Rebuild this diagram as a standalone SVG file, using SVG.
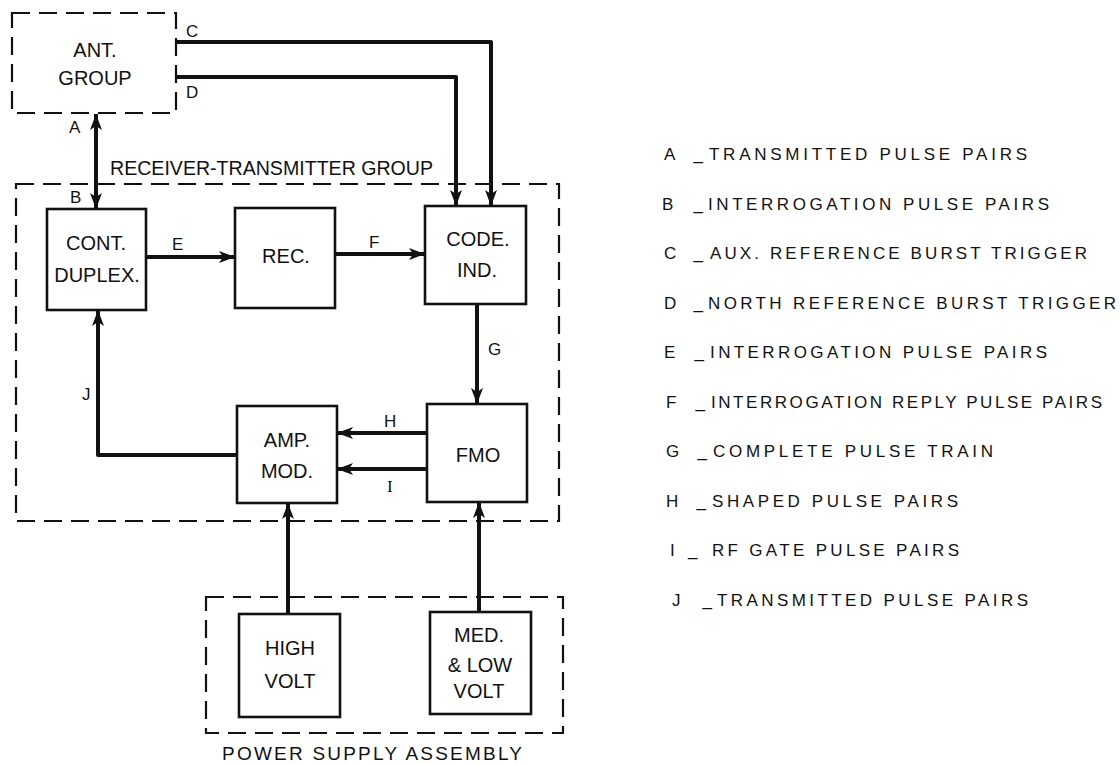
<svg xmlns="http://www.w3.org/2000/svg" width="1120" height="764" viewBox="0 0 1120 764">
<style>
.bg{fill:#ffffff}
.grp{fill:none;stroke:#111;stroke-width:2.2;stroke-dasharray:18 9}
.box{fill:#fff;stroke:#111;stroke-width:2.6}
.wire{fill:none;stroke:#111;stroke-width:4;stroke-linejoin:round}
.t{font-family:"Liberation Sans",Arial,sans-serif;fill:#111;font-size:20px;text-anchor:middle}
.lab{font-family:"Liberation Sans",Arial,sans-serif;fill:#111;font-size:17px}
.ser{font-family:"Liberation Serif","Times New Roman",serif}
.leg{font-family:"Liberation Sans",Arial,sans-serif;fill:#111;font-size:17px}
</style>
<defs>
<marker id="ah" markerUnits="userSpaceOnUse" markerWidth="18" markerHeight="14" refX="16" refY="6" orient="auto">
<path d="M0,0 L16,6 L0,12 L4,6 Z" fill="#111"/>
</marker>
<marker id="ahs" markerUnits="userSpaceOnUse" markerWidth="18" markerHeight="14" refX="0" refY="6" orient="auto">
<path d="M16,0 L0,6 L16,12 L12,6 Z" fill="#111"/>
</marker>
</defs>
<rect class="bg" x="0" y="0" width="1120" height="764"/>

<g id="ant-group">
<rect class="grp" x="12" y="13" width="164" height="100"/>
<text class="t" x="95" y="57">ANT.</text>
<text class="t" x="95" y="85">GROUP</text>
</g>

<g id="rt-group">
<rect class="grp" x="16" y="184" width="543" height="337"/>
<text class="t" x="110" y="175" style="text-anchor:start" textLength="323" lengthAdjust="spacingAndGlyphs">RECEIVER-TRANSMITTER GROUP</text>
</g>

<g id="power-supply">
<rect class="grp" x="206" y="597" width="357" height="136"/>
<text class="t" x="222" y="760" style="text-anchor:start;font-size:19px" textLength="300" lengthAdjust="spacing">POWER SUPPLY ASSEMBLY</text>
</g>

<g id="cont-duplex">
<rect class="box" x="47" y="209" width="99" height="101"/>
<text class="t" x="96" y="250">CONT.</text>
<text class="t" x="97" y="282">DUPLEX.</text>
</g>

<g id="rec">
<rect class="box" x="235" y="208" width="100" height="100"/>
<text class="t" x="286" y="263">REC.</text>
</g>

<g id="code-ind">
<rect class="box" x="425" y="206" width="101" height="98"/>
<text class="t" x="478" y="246">CODE.</text>
<text class="t" x="477" y="277">IND.</text>
</g>

<g id="amp-mod">
<rect class="box" x="237" y="406" width="100" height="97"/>
<text class="t" x="287" y="447">AMP.</text>
<text class="t" x="287" y="478">MOD.</text>
</g>

<g id="fmo">
<rect class="box" x="427" y="404" width="100" height="98"/>
<text class="t" x="478" y="462">FMO</text>
</g>

<g id="high-volt">
<rect class="box" x="239" y="614" width="101" height="103"/>
<text class="t" x="290" y="655">HIGH</text>
<text class="t" x="290" y="688">VOLT</text>
</g>

<g id="med-low-volt">
<rect class="box" x="430" y="612" width="101" height="102"/>
<text class="t" x="479" y="642">MED.</text>
<text class="t" x="480" y="672">&amp; LOW</text>
<text class="t" x="479" y="698">VOLT</text>
</g>

<g id="connectors">
<path class="wire" d="M176,42 H491 V206" marker-end="url(#ah)"/>
<path class="wire" d="M176,77 H456 V206" marker-end="url(#ah)"/>
<path class="wire" d="M96,114 V209" marker-start="url(#ahs)" marker-end="url(#ah)"/>
<path class="wire" d="M146,257 H235" marker-end="url(#ah)"/>
<path class="wire" d="M335,254 H425" marker-end="url(#ah)"/>
<path class="wire" d="M477,304 V404" marker-end="url(#ah)"/>
<path class="wire" d="M427,433 H337" marker-end="url(#ah)"/>
<path class="wire" d="M427,469 H337" marker-end="url(#ah)"/>
<path class="wire" d="M237,455 H98 V310" marker-end="url(#ah)"/>
<path class="wire" d="M288,614 V503" marker-end="url(#ah)"/>
<path class="wire" d="M479,612 V502" marker-end="url(#ah)"/>
<text class="lab" x="186" y="37">C</text>
<text class="lab" x="186" y="98">D</text>
<text class="lab" x="69" y="133">A</text>
<text class="lab" x="70" y="203">B</text>
<text class="lab" x="172" y="250">E</text>
<text class="lab" x="369" y="248">F</text>
<text class="lab" x="488" y="355">G</text>
<text class="lab" x="384" y="427">H</text>
<text class="lab ser" x="387" y="492">I</text>
<text class="lab" x="82" y="400">J</text>
</g>

<g id="legend">
<text class="leg" x="664" y="160" textLength="39" lengthAdjust="spacing">A _</text>
<text class="leg" x="709" y="160" textLength="318" lengthAdjust="spacing">TRANSMITTED PULSE PAIRS</text>
<text class="leg" x="662" y="209.5" textLength="41" lengthAdjust="spacing">B _</text>
<text class="leg" x="708" y="209.5" textLength="341" lengthAdjust="spacing">INTERROGATION PULSE PAIRS</text>
<text class="leg" x="664" y="259" textLength="39" lengthAdjust="spacing">C _</text>
<text class="leg" x="710" y="259" textLength="377" lengthAdjust="spacing">AUX. REFERENCE BURST TRIGGER</text>
<text class="leg" x="664" y="308.5" textLength="39" lengthAdjust="spacing">D _</text>
<text class="leg" x="708" y="308.5" textLength="408" lengthAdjust="spacing">NORTH REFERENCE BURST TRIGGER</text>
<text class="leg" x="664" y="358" textLength="40" lengthAdjust="spacing">E _</text>
<text class="leg" x="710" y="358" textLength="337" lengthAdjust="spacing">INTERROGATION PULSE PAIRS</text>
<text class="leg" x="666" y="407.5" textLength="39" lengthAdjust="spacing">F _</text>
<text class="leg" x="711" y="407.5" textLength="391" lengthAdjust="spacing">INTERROGATION REPLY PULSE PAIRS</text>
<text class="leg" x="666" y="457" textLength="41" lengthAdjust="spacing">G _</text>
<text class="leg" x="713" y="457" textLength="280" lengthAdjust="spacing">COMPLETE PULSE TRAIN</text>
<text class="leg" x="666" y="506.5" textLength="40" lengthAdjust="spacing">H _</text>
<text class="leg" x="712" y="506.5" textLength="246" lengthAdjust="spacing">SHAPED PULSE PAIRS</text>
<text class="leg ser" x="670" y="556">I</text>
<text class="leg" x="688" y="556">_</text>
<text class="leg" x="712" y="556" textLength="247" lengthAdjust="spacing">RF GATE PULSE PAIRS</text>
<text class="leg" x="672" y="605.5" textLength="40" lengthAdjust="spacing">J _</text>
<text class="leg" x="717" y="605.5" textLength="311" lengthAdjust="spacing">TRANSMITTED PULSE PAIRS</text>
</g>
</svg>
